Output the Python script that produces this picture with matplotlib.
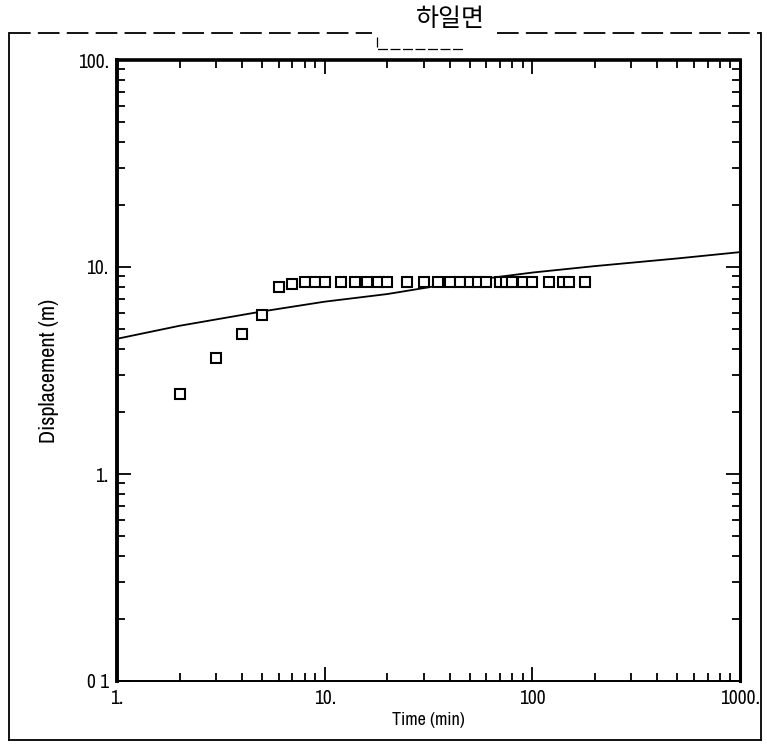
import matplotlib
matplotlib.use("Agg")
import matplotlib.pyplot as plt
from matplotlib.ticker import FixedLocator, NullFormatter
from matplotlib.lines import Line2D

# Observed drawdown
obs_time = [2, 3, 4, 5, 6, 7, 8, 9, 10, 12, 14, 16, 18, 20, 25,
            30, 35, 40, 45, 50, 55, 60, 70, 75, 80, 90, 100,
            120, 140, 150, 180]
obs_disp = [2.43, 3.62, 4.73, 5.86, 8.04, 8.26, 8.47, 8.47, 8.47, 8.47, 8.47,
            8.47, 8.47, 8.47, 8.47, 8.47, 8.47, 8.47, 8.47, 8.47, 8.47,
            8.47, 8.47, 8.47, 8.47, 8.47, 8.47, 8.47, 8.47, 8.47, 8.47]

# Fitted type curve
fit_time = [1, 2, 5, 10, 20, 50, 100, 200, 500, 1000]
fit_disp = [4.5, 5.2, 6.1, 6.8, 7.4, 8.6, 9.4, 10.1, 11.0, 11.8]

x_ticks = [1, 10, 100, 1000]
x_labels = ["1.", "10.", "100", "1000."]
y_ticks = [0.1, 1, 10, 100]
y_labels = ["0 1", "1.", "10.", "100."]

title = "하일면"
x_title = "Time (min)"
y_title = "Displacement (m)"

W, H = 767, 745
fig = plt.figure(figsize=(W / 100, H / 100), dpi=100)
fig.patch.set_facecolor("white")

lab_font = ["Archivo Narrow", "DejaVu Sans"]

ax = fig.add_axes([117 / W, 1 - 681 / H, (740 - 117) / W, (681 - 60) / H])
ax.set_xscale("log")
ax.set_yscale("log")
ax.set_xlim(1, 1000)
ax.set_ylim(0.1, 100)

ax.plot(fit_time, fit_disp, color="black", lw=1.3, zorder=3)
ax.plot(obs_time, obs_disp, linestyle="none", marker="s", markersize=6.8,
        markerfacecolor="white", markeredgecolor="black", markeredgewidth=1.5,
        zorder=4)

# frame
for side, lw in (("left", 2.8), ("top", 2.6), ("right", 2.2), ("bottom", 1.4)):
    ax.spines[side].set_linewidth(lw)
    ax.spines[side].set_color("black")

minor_x = [m * d for d in (1, 10, 100) for m in range(2, 10)]
minor_y = [m * d for d in (0.1, 1, 10) for m in range(2, 10)]
ax.xaxis.set_major_locator(FixedLocator(x_ticks))
ax.xaxis.set_minor_locator(FixedLocator(minor_x))
ax.yaxis.set_major_locator(FixedLocator(y_ticks))
ax.yaxis.set_minor_locator(FixedLocator(minor_y))
ax.xaxis.set_minor_formatter(NullFormatter())
ax.yaxis.set_minor_formatter(NullFormatter())
ax.set_xticklabels(x_labels, fontsize=14, family=lab_font)
ax.set_yticklabels(y_labels, fontsize=14, family=lab_font)

ax.tick_params(which="both", direction="in", top=True, right=True,
               color="black", width=1.3)
ax.tick_params(which="major", length=10, pad=6)
ax.tick_params(which="minor", length=6)

ax.set_xlabel(x_title, fontsize=13, family=lab_font, labelpad=3)
ax.set_ylabel(y_title, fontsize=16, family=lab_font, labelpad=13)

# outer frame of the panel with a broken top edge around the heading
def fx(px):
    return px / W

def fy(py):
    return 1 - py / H

frame_kw = dict(color="black", lw=1.3, transform=fig.transFigure)
fig.add_artist(Line2D([fx(9), fx(9)], [fy(33), fy(740)], **frame_kw))
fig.add_artist(Line2D([fx(9), fx(761)], [fy(740), fy(740)], **frame_kw))
fig.add_artist(Line2D([fx(761), fx(761)], [fy(33), fy(740)], **frame_kw))
fig.add_artist(Line2D([fx(9), fx(372)], [fy(33), fy(33)], ls=(0, (12, 4)),
                      **frame_kw))
fig.add_artist(Line2D([fx(497), fx(761)], [fy(33), fy(33)], ls=(0, (12, 4)),
                      **frame_kw))
fig.add_artist(Line2D([fx(377), fx(377), fx(465)], [fy(37), fy(49), fy(49)],
                      ls=(0, (8, 2)), color="black", lw=0.9,
                      transform=fig.transFigure))

fig.text(fx(450), fy(19), title, ha="center", va="center", fontsize=18,
         family=["Noto Sans CJK KR", "DejaVu Sans"])

fig.savefig("out.png", dpi=100, facecolor="white")
